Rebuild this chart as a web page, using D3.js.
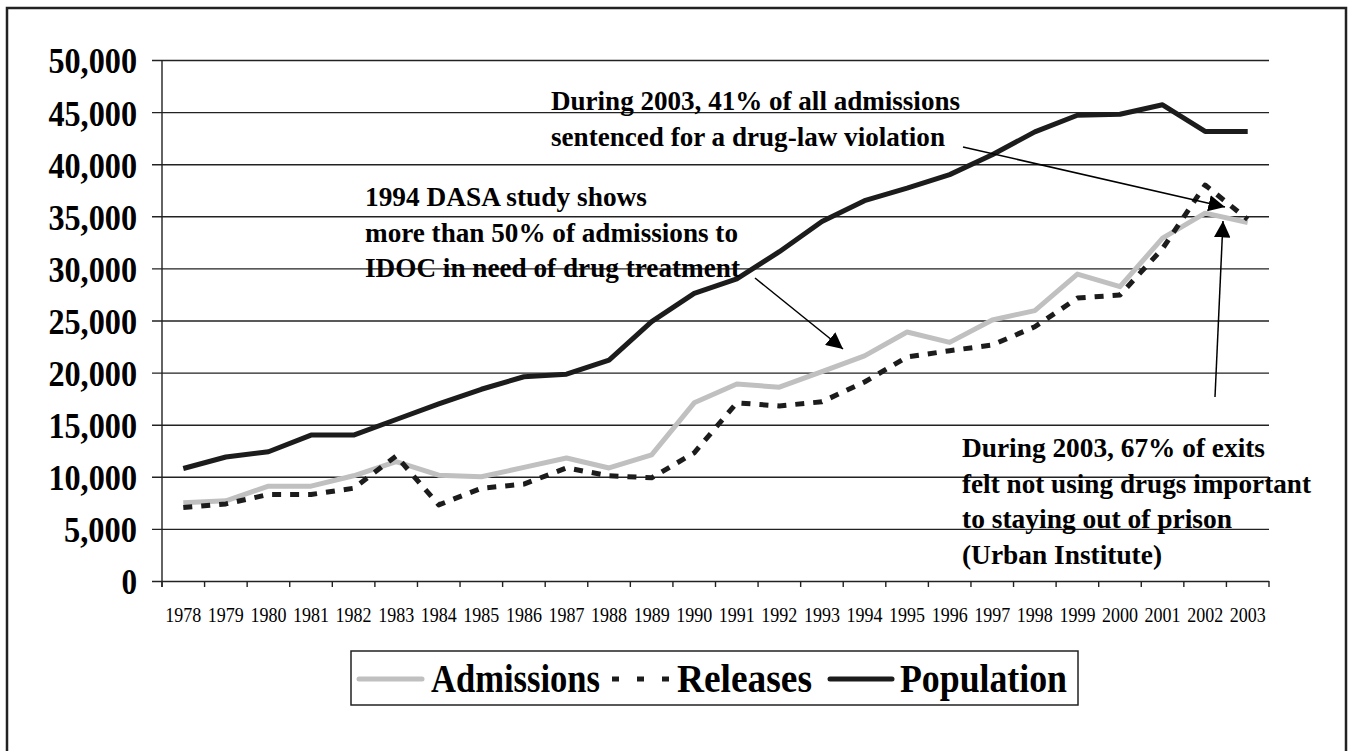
<!DOCTYPE html>
<html>
<head>
<meta charset="utf-8">
<script src="https://cdn.jsdelivr.net/npm/d3@7/dist/d3.min.js"></script>
<style>
  html, body { margin: 0; padding: 0; background: #fff; }
  svg { display: block; }
  text { font-family: "Liberation Serif", "Times New Roman", serif; fill: #000; }
</style>
</head>
<body>
<svg id="chart" width="1349" height="751"></svg>
<script>
// Illinois Department of Corrections: yearly admissions, releases and population
const years = [1978, 1979, 1980, 1981, 1982, 1983, 1984, 1985, 1986, 1987, 1988, 1989, 1990,
               1991, 1992, 1993, 1994, 1995, 1996, 1997, 1998, 1999, 2000, 2001, 2002, 2003];
const admissions = [7500, 7700, 9100, 9100, 10100, 11450, 10150, 10000, 10900, 11800, 10850, 12100, 17100,
                    18900, 18600, 20100, 21600, 23900, 22900, 25050, 25950, 29450, 28250, 32900, 35300, 34400];
const releases = [7050, 7400, 8300, 8300, 8900, 12000, 7300, 8900, 9300, 10850, 10100, 9900, 12300,
                  17100, 16800, 17200, 19100, 21500, 22100, 22650, 24400, 27150, 27450, 31900, 38000, 34700];
const population = [10800, 11900, 12400, 14000, 14000, 15500, 17000, 18400, 19600, 19850, 21200, 24900, 27600,
                    29000, 31600, 34500, 36500, 37700, 39000, 40900, 43100, 44700, 44800, 45700, 43150, 43150];
const yTicks = [0, 5000, 10000, 15000, 20000, 25000, 30000, 35000, 40000, 45000, 50000];

const seriesList = [
  { name: "Admissions", values: admissions, color: "#c0c0c0", dash: null },
  { name: "Releases", values: releases, color: "#1c1c1c", dash: "9,9" },
  { name: "Population", values: population, color: "#1c1c1c", dash: null }
];

const notes = [
  { lines: ["During 2003, 41% of all admissions", "sentenced for a drug-law violation"],
    widths: [409, 394], x: 551, y: 110, from: [963, 147], to: [1225, 207] },
  { lines: ["1994 DASA study shows", "more than 50% of admissions to", "IDOC in need of drug treatment"],
    widths: [282, 373, 375], x: 365, y: 206, from: [755, 278], to: [843, 349] },
  { lines: ["During 2003, 67% of exits", "felt not using drugs important", "to staying out of prison", "(Urban Institute)"],
    widths: [303, 349, 270, 200], x: 962, y: 457, from: [1215, 397], to: [1223, 221] }
];

const svg = d3.select("#chart");
const plot = { left: 162, right: 1269, top: 60, bottom: 581 };

// outer frame (open at the bottom edge)
svg.append("path")
  .attr("d", "M7,760 V8 H1346 V760")
  .attr("fill", "none").attr("stroke", "#222").attr("stroke-width", 2.5);

const x = d3.scaleBand().domain(years).range([plot.left, plot.right]).paddingInner(0).paddingOuter(0);
const y = d3.scaleLinear().domain([0, 50000]).range([plot.bottom, plot.top]);
const xc = d => x(d) + x.bandwidth() / 2;

// horizontal gridlines with outward ticks and value labels
const yAxis = d3.axisLeft(y).tickValues(yTicks).tickFormat(d3.format(",")).tickSize(-(plot.right - plot.left)).tickPadding(0);
const gy = svg.append("g").attr("transform", `translate(${plot.left},0)`).call(yAxis);
gy.select(".domain").remove();
gy.selectAll(".tick line").attr("x1", -10).attr("stroke", "#222").attr("stroke-width", 1.4);
gy.selectAll(".tick text")
  .attr("x", -25).attr("dy", "0.36em")
  .style("font-family", "'Liberation Serif', serif")
  .style("font-weight", "bold").style("font-size", "36px").attr("fill", "#000")
  .each(function () {
    const t = d3.select(this);
    const len = t.text().length;
    t.attr("textLength", len * 15.6 - (len > 1 ? 5 : 0)).attr("lengthAdjust", "spacingAndGlyphs");
  });

// vertical axis line
svg.append("line")
  .attr("x1", plot.left).attr("x2", plot.left).attr("y1", plot.top).attr("y2", plot.bottom + 6)
  .attr("stroke", "#222").attr("stroke-width", 1.4);

// category ticks at band edges and year labels
const edges = years.map(d => x(d)).concat([plot.right]);
svg.append("g").selectAll("line").data(edges).join("line")
  .attr("x1", d => d).attr("x2", d => d).attr("y1", plot.bottom).attr("y2", plot.bottom + 6)
  .attr("stroke", "#222").attr("stroke-width", 1.4);
svg.append("g").selectAll("text").data(years).join("text")
  .attr("x", d => xc(d)).attr("y", 622).attr("text-anchor", "middle")
  .attr("textLength", 36).attr("lengthAdjust", "spacingAndGlyphs")
  .style("font-size", "20px").text(d => d);

// series lines
const line = d3.line().x((d, i) => xc(years[i])).y(d => y(d));
seriesList.forEach(s => {
  svg.append("path")
    .attr("d", line(s.values))
    .attr("fill", "none").attr("stroke", s.color).attr("stroke-width", 5)
    .attr("stroke-linejoin", "round")
    .attr("stroke-dasharray", s.dash);
});

// annotations with arrows
const defs = svg.append("defs");
defs.append("marker").attr("id", "head").attr("viewBox", "0 0 10 10")
  .attr("refX", 10).attr("refY", 5).attr("markerWidth", 11).attr("markerHeight", 11)
  .attr("markerUnits", "strokeWidth").attr("orient", "auto")
  .append("path").attr("d", "M0,0 L10,5 L0,10 Z").attr("fill", "#000");

notes.forEach(n => {
  svg.append("line")
    .attr("x1", n.from[0]).attr("y1", n.from[1]).attr("x2", n.to[0]).attr("y2", n.to[1])
    .attr("stroke", "#000").attr("stroke-width", 1.5).attr("marker-end", "url(#head)");
  n.lines.forEach((t, i) => {
    svg.append("text")
      .attr("x", n.x).attr("y", n.y + i * 35.5)
      .attr("textLength", n.widths[i]).attr("lengthAdjust", "spacingAndGlyphs")
      .style("font-weight", "bold").style("font-size", "28px").text(t);
  });
});

// legend
const lg = svg.append("g");
lg.append("rect").attr("x", 351).attr("y", 651).attr("width", 727).attr("height", 54)
  .attr("fill", "#fff").attr("stroke", "#222").attr("stroke-width", 1.5);
const legendItems = [
  { s: seriesList[0], x1: 359, x2: 422, tx: 431, tw: 169, dash: null },
  { s: seriesList[1], x1: 612, x2: 677, tx: 677, tw: 135, dash: "7,18" },
  { s: seriesList[2], x1: 830, x2: 892, tx: 900, tw: 167, dash: null }
];
legendItems.forEach(it => {
  lg.append("line").attr("x1", it.x1).attr("x2", it.x2).attr("y1", 679).attr("y2", 679)
    .attr("stroke", it.s.color).attr("stroke-width", 5)
    .attr("stroke-linecap", it.dash ? "butt" : "round")
    .attr("stroke-dasharray", it.dash);
  lg.append("text").attr("x", it.tx).attr("y", 692)
    .attr("textLength", it.tw).attr("lengthAdjust", "spacingAndGlyphs")
    .style("font-weight", "bold").style("font-size", "41px").text(it.s.name);
});
</script>
</body>
</html>
